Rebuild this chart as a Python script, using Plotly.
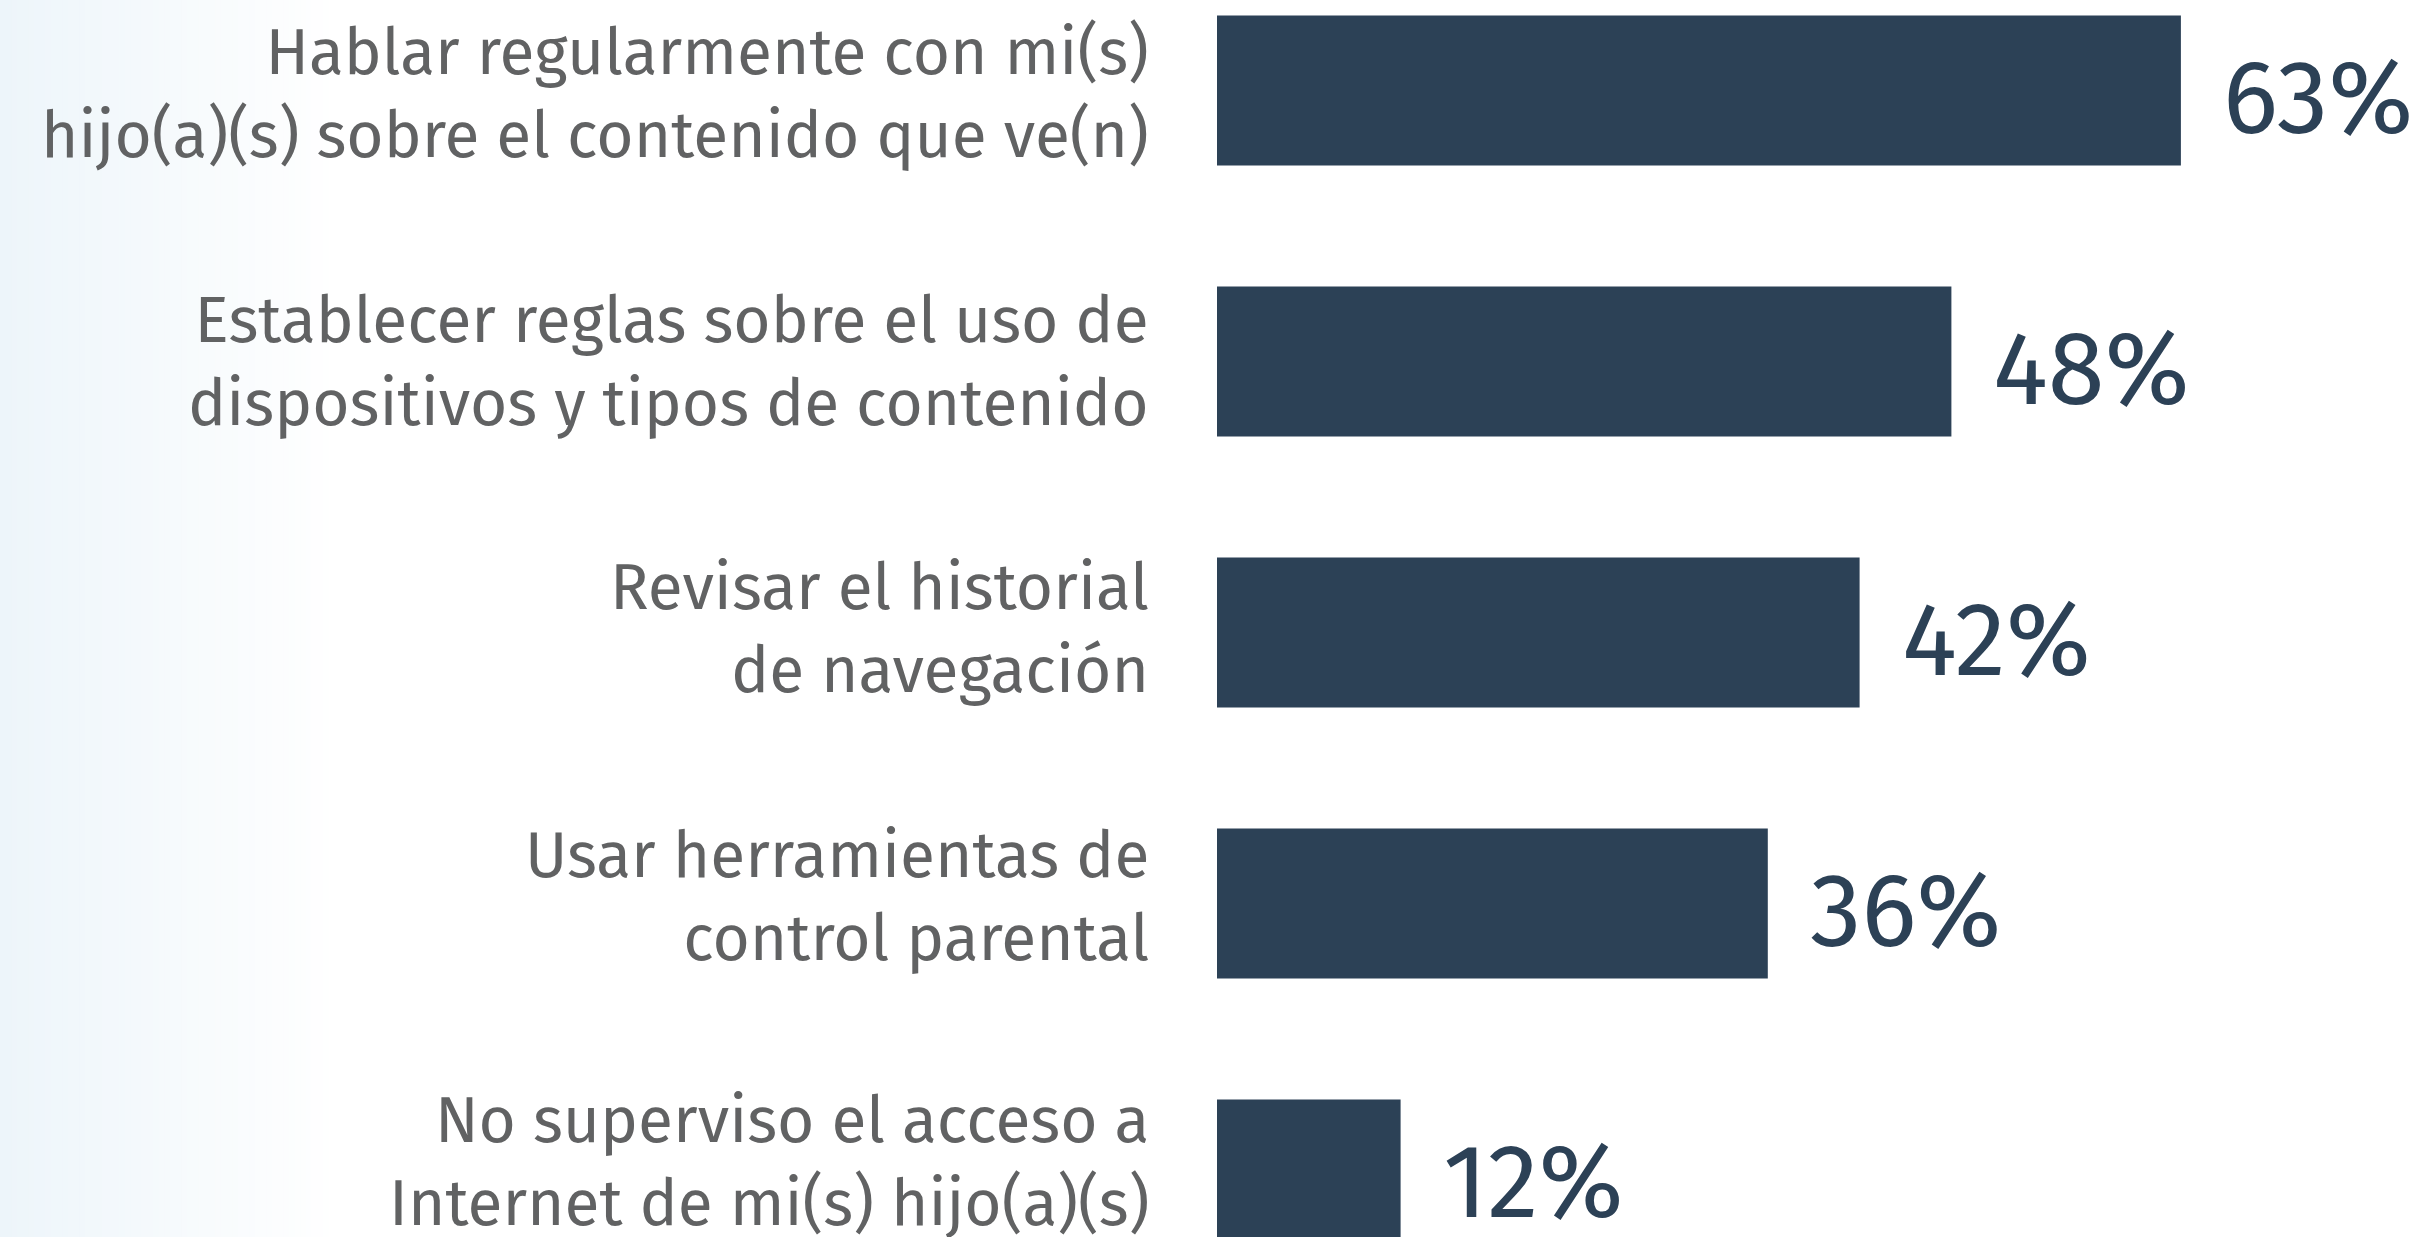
import plotly.graph_objects as go

# Survey data: parental supervision practices (% of parents)
categories = [
    "Hablar regularmente con mi(s)<br>hijo(a)(s) sobre el contenido que ve(n)",
    "Establecer reglas sobre el uso de<br>dispositivos y tipos de contenido",
    "Revisar el historial<br>de navegación",
    "Usar herramientas de<br>control parental",
    "No superviso el acceso a<br>Internet de mi(s) hijo(a)(s)",
]
values = [63, 48, 42, 36, 12]
value_labels = ["63%", "48%", "42%", "36%", "12%"]

W, H = 2423, 1237
BAR_COLOR = "#2c4156"
LABEL_COLOR = "#616263"
FONT = "Fira Sans, Open Sans, Noto Sans, sans-serif"

# Plot area for the bars: starts at x=1217 px, 15.3 px per percentage point
x0_px = 1217
px_per_unit = 15.3
x_max = (W - x0_px) / px_per_unit

# Vertical layout: first bar centred at 90.5 px, 271 px pitch, 150 px tall bars
pitch = 271.0
first_center = 90.5
y_top = -first_center / pitch
y_bottom = (H - first_center) / pitch
bar_width = 150.0 / pitch

# Small per-row nudges of the category text (px, positive = up)
label_nudge = [-3, 0, 4, 7, 13]

idx = list(range(len(categories)))

fig = go.Figure()
fig.add_trace(go.Bar(
    x=values,
    y=idx,
    orientation="h",
    width=bar_width,
    marker=dict(color=BAR_COLOR, line=dict(width=0)),
    hoverinfo="skip",
))

annotations = []
for i, (cat, v, lab) in enumerate(zip(categories, values, value_labels)):
    annotations.append(dict(
        x=0, y=i, xref="x", yref="y",
        text=cat, showarrow=False,
        xanchor="right", yanchor="middle", align="right",
        xshift=-66, yshift=label_nudge[i],
        font=dict(family=FONT, size=64, color=LABEL_COLOR),
    ))
    annotations.append(dict(
        x=v, y=i, xref="x", yref="y",
        text=lab, showarrow=False,
        xanchor="left", yanchor="middle",
        xshift=40, yshift=-8,
        font=dict(family=FONT, size=103, color=BAR_COLOR),
    ))

# Soft light-blue wash fading in from the left edge
shapes = []
n_strips = 60
fade_px = 340
for k in range(n_strips):
    a = k / n_strips
    b = (k + 1) / n_strips
    t = (a + b) / 2
    r = round(237 + (255 - 237) * t)
    g = round(245 + (255 - 245) * t)
    bl = round(250 + (255 - 250) * t)
    shapes.append(dict(
        type="rect", xref="paper", yref="paper",
        x0=a * fade_px / W, x1=b * fade_px / W + 0.0005, y0=0, y1=1,
        fillcolor=f"rgb({r},{g},{bl})", line=dict(width=0), layer="below",
    ))

fig.update_layout(
    width=W, height=H,
    margin=dict(l=0, r=0, t=0, b=0),
    paper_bgcolor="white",
    plot_bgcolor="rgba(0,0,0,0)",
    showlegend=False,
    annotations=annotations,
    shapes=shapes,
    xaxis=dict(
        domain=[x0_px / W, 1],
        range=[0, x_max],
        visible=False, fixedrange=True,
    ),
    yaxis=dict(
        range=[y_bottom, y_top],
        visible=False, fixedrange=True,
    ),
)

fig.write_html("out.html", config={"displayModeBar": False})
